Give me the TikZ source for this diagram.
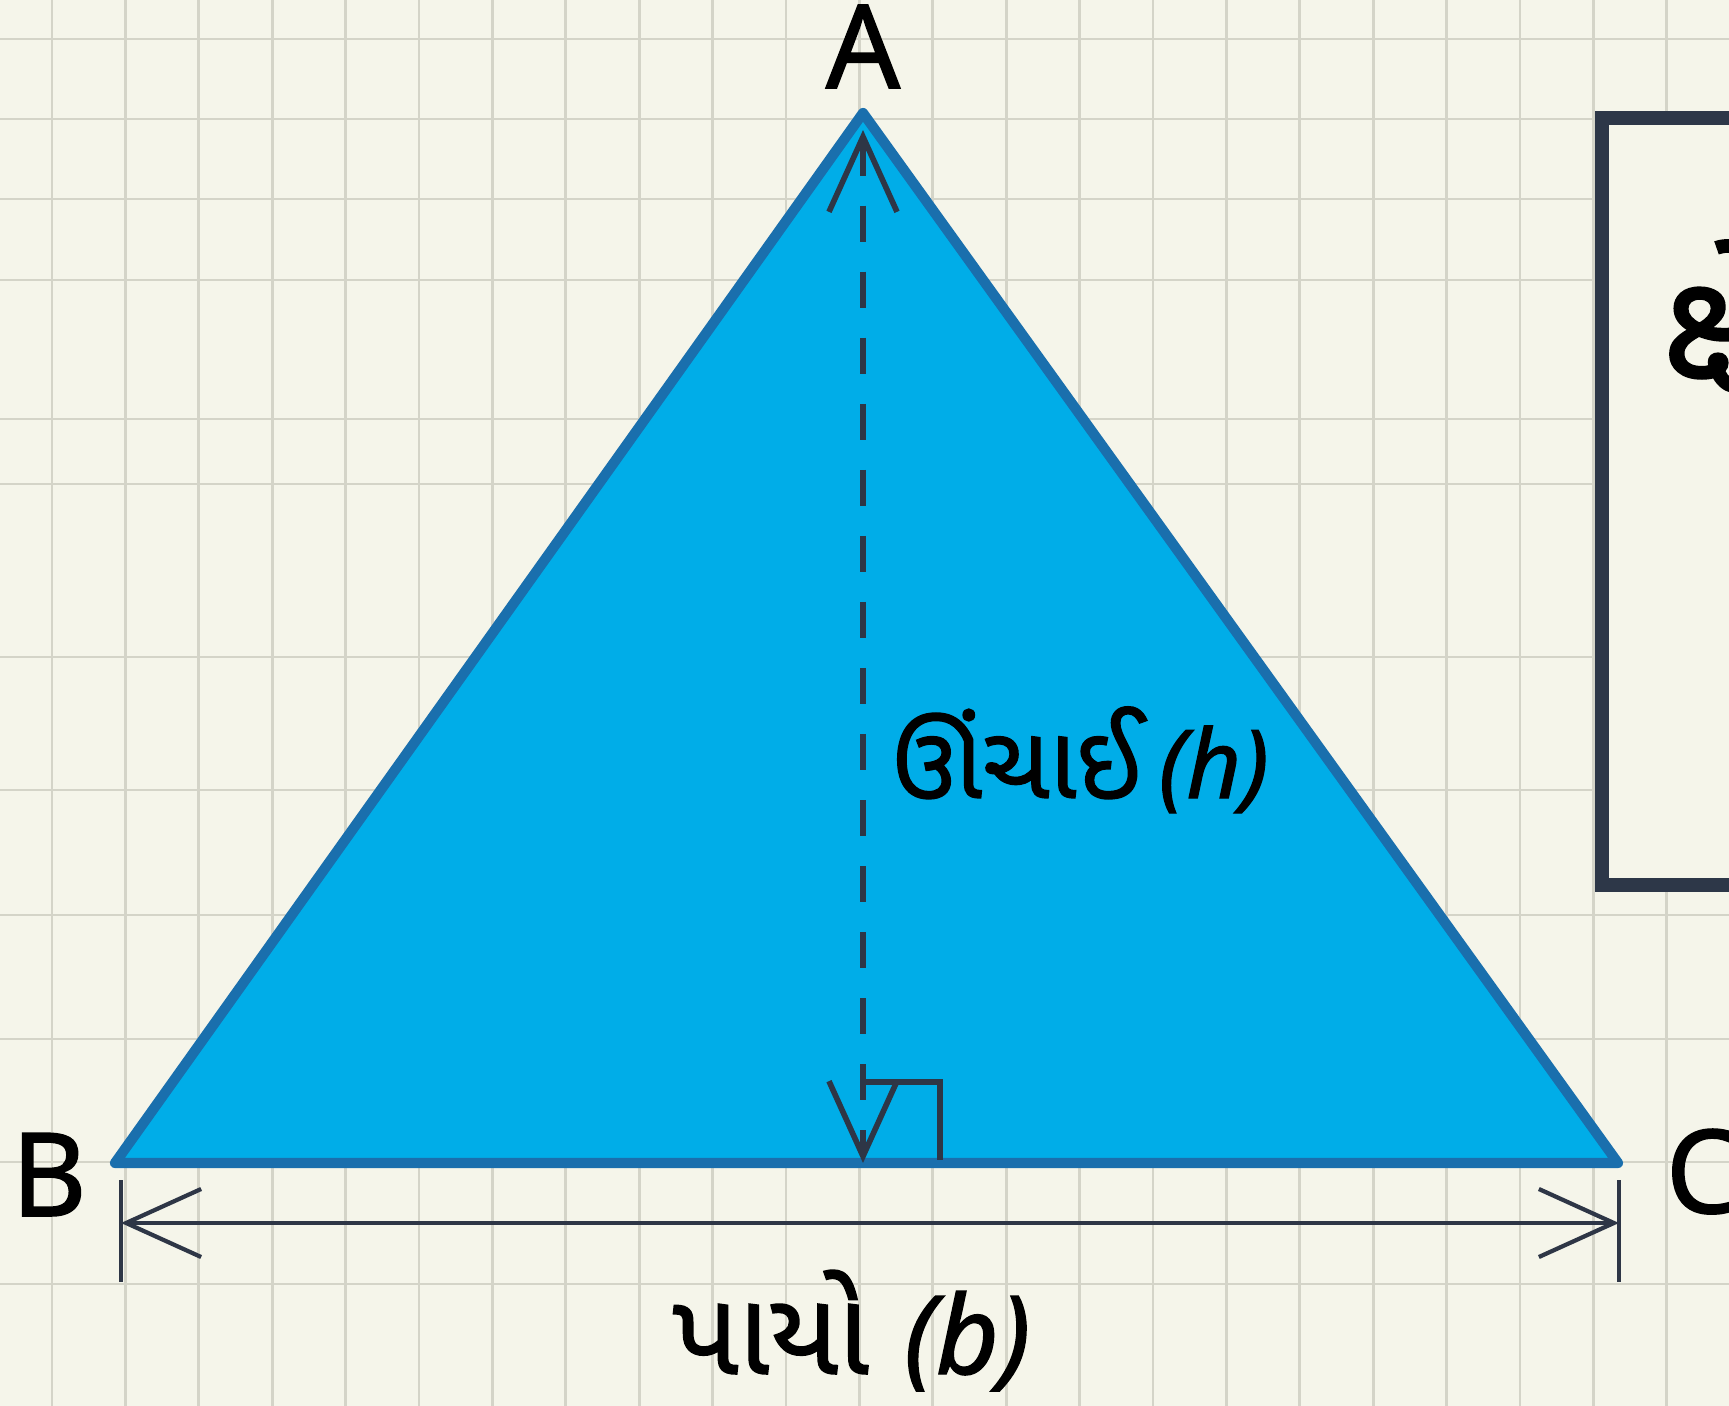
\documentclass[tikz,border=0pt]{standalone}
\usepackage{fontspec}
\setmainfont{Noto Sans}
\newfontfamily\labelfont{Noto Sans}[FakeBold=1.3]
\newfontfamily\gujfont[Script=Gujarati,FakeBold=1.3]{Noto Sans Gujarati UI}
\usetikzlibrary{arrows.meta}

\definecolor{paper}{HTML}{F5F5EA}
\definecolor{gridline}{HTML}{D4D4C8}
\definecolor{trifill}{HTML}{00ADE8}
\definecolor{triedge}{HTML}{1A6FAD}
\definecolor{ink}{HTML}{2E3646}
\definecolor{boxline}{HTML}{2D3748}

\tikzset{
  vlabel/.style={font=\labelfont\fontsize{33}{36}\selectfont, text=black, inner sep=0pt},
  dimlabel/.style={text=black, inner sep=0pt},
  dimline/.style={ink, line width=1.2pt,
    {Straight Barb[length=0.75cm,width=0.68cm]}-{Straight Barb[length=0.75cm,width=0.68cm]}},
  gridrule/.style={gridline, line width=0.8pt}
}

\begin{document}
\begin{tikzpicture}[x=0.01cm, y=-0.01cm]

  \clip (0,0) rectangle (1729,1406);
  \fill[paper] (0,0) rectangle (1729,1406);

    \foreach \i in {0,...,22} {
       \draw[gridrule] ({52+73.4*\i},0) -- ({52+73.4*\i},1406);
    }
    \foreach \j in {39,119,199,280,419,484,657,790,915,1039,1162,1284} {
       \draw[gridrule] (0,\j) -- (1729,\j);
    }

  \coordinate (A) at ( 863,  113);
  \coordinate (B) at ( 115, 1163);
  \coordinate (C) at (1618, 1163);

  \draw[triedge,line width=2.9pt,fill=trifill,line join=round] (A) -- (B) -- (C) --cycle;

  \coordinate (h1) at ( 863,  130);
  \coordinate (h2) at ( 863, 1163);

  \draw[dimline,line width=1.6pt,dash pattern=on 0.36cm off 0.3cm] (h1) -- (h2);

  \coordinate (r1) at ( 863, 1082);
  \coordinate (r2) at ( 940, 1082);
  \coordinate (r3) at ( 940, 1160);

  \draw[ink,line width=1.5pt] (r1) -- (r2) -- (r3);

  \coordinate (d1) at ( 121, 1223);
  \coordinate (d2) at (1619, 1223);

  \draw[dimline] (d1) -- (d2);
  \draw[ink,line width=1.2pt] (121,1180) -- (121,1282);
  \draw[ink,line width=1.2pt] (1619,1180) -- (1619,1282);

  \coordinate (bx1) at (1602,  118);
  \coordinate (bx2) at (1790,  885);

  \draw[boxline,line width=4pt,fill=paper] (bx1) rectangle (bx2);

  \node[vlabel,anchor=base] (labA) at ( 863,   88) {A};
  \node[vlabel,anchor=base] (labB) at (  49, 1216) {B};
  \node[vlabel,anchor=base west] (labC) at (1665, 1213) {C};

  \node[dimlabel,anchor=base west] (height) at ( 891,  798)
    {{\gujfont\fontsize{29}{32}\selectfont ઊંચાઈ}\hspace{5pt}{\labelfont\fontsize{27}{32}\selectfont\itshape(h)}};
  \node[dimlabel,anchor=base west] (base) at ( 672, 1374)
    {{\gujfont\fontsize{33}{36}\selectfont પાયો}\hspace{10pt}{\labelfont\fontsize{31}{34}\selectfont\itshape(b)}};

  \node[font=\gujfont\fontsize{46}{50}\selectfont,inner sep=0pt,anchor=base west] (area) at (1662, 385) {ક્ષે};

  \end{tikzpicture}
\end{document}
